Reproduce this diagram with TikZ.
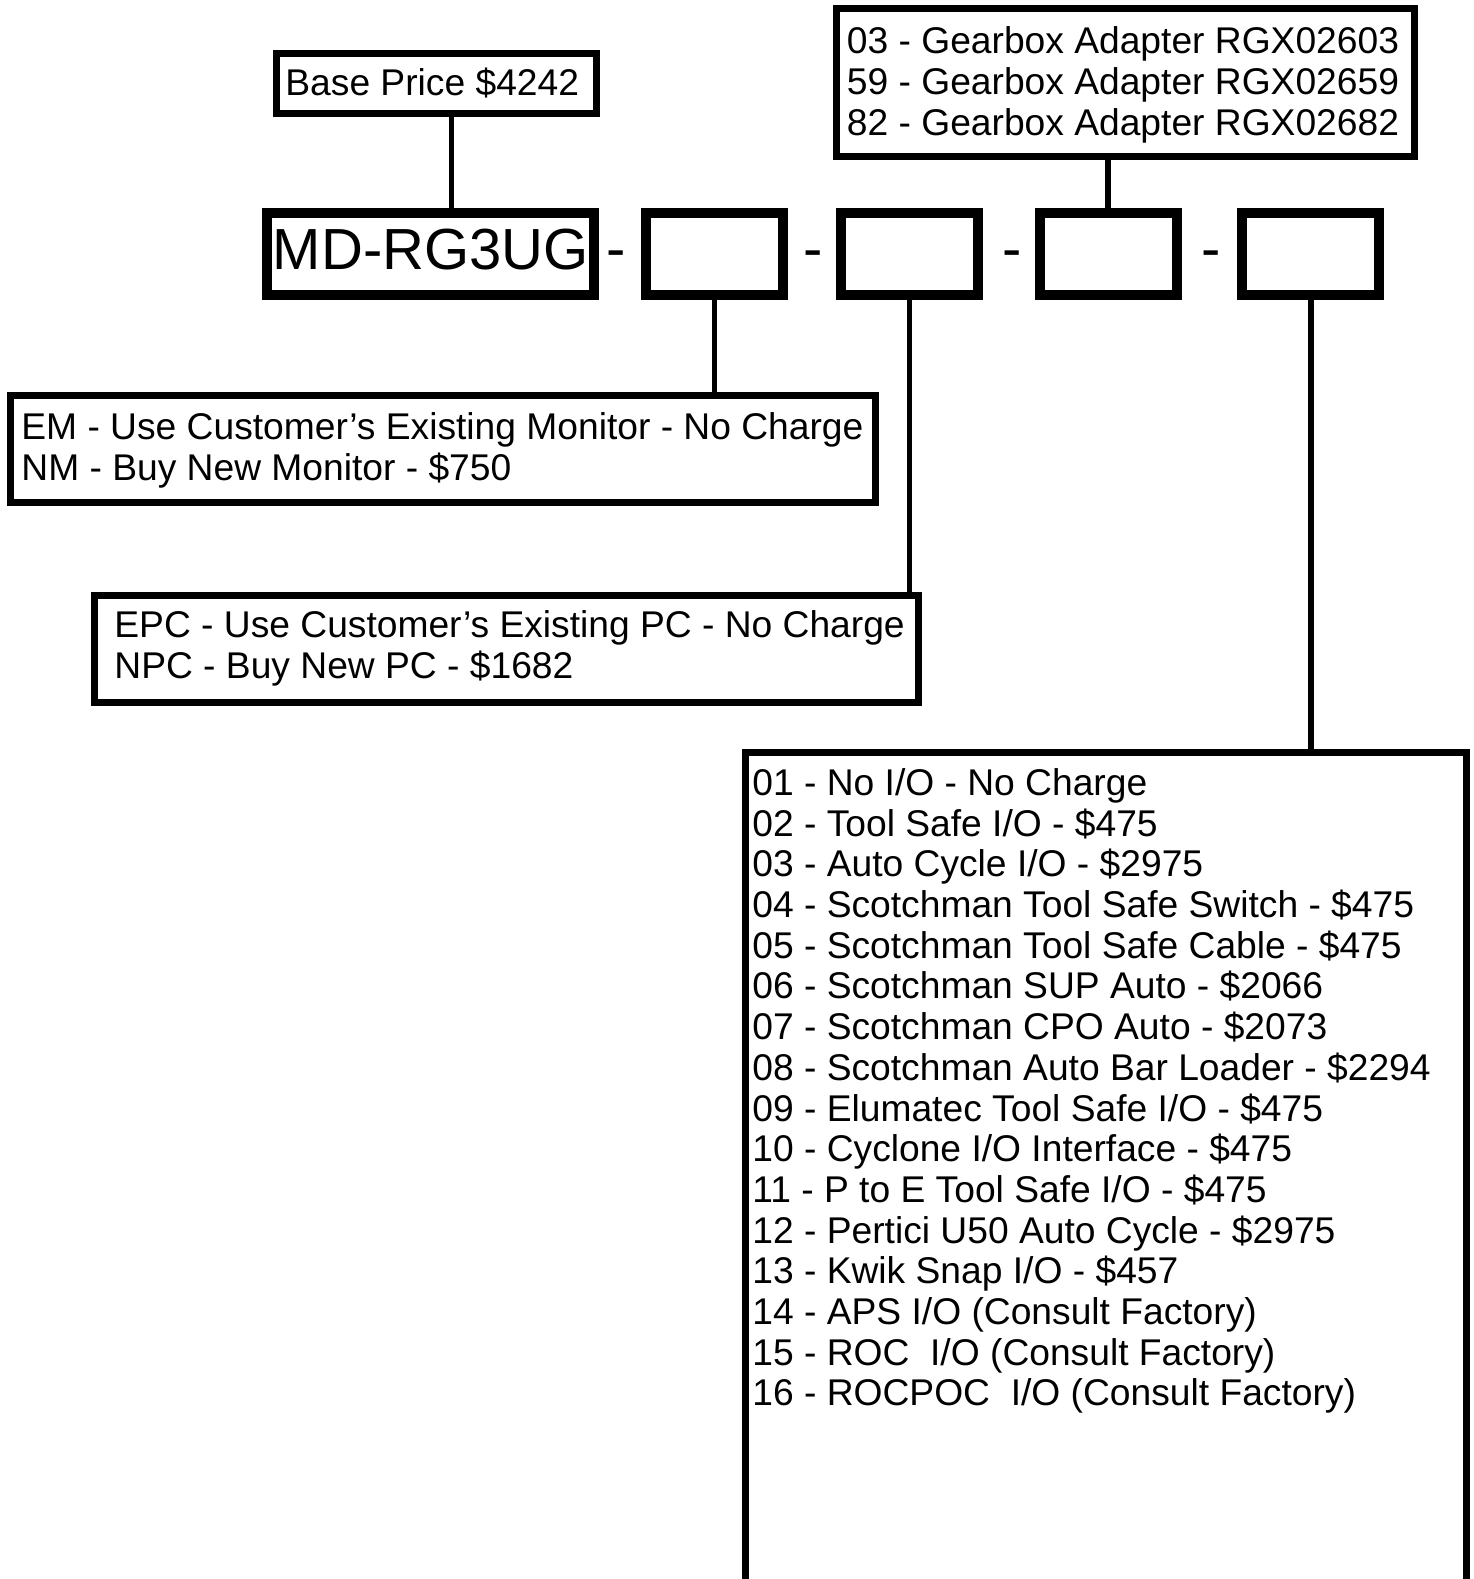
\documentclass[tikz,border=0pt]{standalone}
\usepackage{fontspec}
\setmainfont{Liberation Sans}
\tikzset{
  codebox/.style = {draw,line width=5pt,inner sep=0pt,minimum width=68.5pt,minimum height=40.85pt},
  optbox/.style  = {draw,line width=3.5pt,inner sep=0pt,anchor=north west},
  optlist/.style = {anchor=north west,inner sep=0pt,align=left,font=\fontsize{18.6}{20.35}\selectfont},
  joiner/.style  = {anchor=base,inner sep=0pt,font=\fontsize{29}{34}\selectfont},
  link/.style    = {line width=2.65pt}
}

\begin{document}
\begin{tikzpicture}[x=0.5pt,y=-0.5pt]
  \useasboundingbox (0,0) rectangle (1473,1579);
  \clip (0,0) rectangle (1473,1579);
  % part number boxes
  \node[codebox,minimum width=163.5pt,text height=14.8pt,text depth=0pt,
        font=\fontsize{29}{34}\selectfont] (md) at (430.8,254.2) {MD-RG3UG};
  \node[codebox] (b2) at (714.5,254.2) {};
  \node[codebox] (b3) at (909.2,254.2) {};
  \node[codebox] (b4) at (1108,254.2) {};
  \node[codebox] (b5) at (1310.9,254.2) {};
  \foreach \x [count=\i] in {616.5,813.5,1012,1211}
    \node[joiner] (j\i) at (\x,268.5) {-};
  % option boxes
  \node[optbox,minimum width=160pt,minimum height=30pt]        (base) at (272.5,49.5) {};
  \node[optbox,minimum width=288.85pt,minimum height=74pt]     (gear) at (833.3,5) {};
  \node[optbox,minimum width=432.35pt,minimum height=53.35pt]  (mon)  at (7.3,392.3) {};
  \node[optbox,minimum width=412.15pt,minimum height=53.25pt]  (pc)   at (91,592) {};
  \node[optbox,minimum width=360.5pt,minimum height=450pt]     (io)   at (742,749) {};
  % option texts
  \node[optlist] (basetxt) at (285,63) {\rule{0pt}{16pt}Base Price \$4242};
  \node[optlist] (geartxt) at (846.5,21.5) {\rule{0pt}{16pt}03 - Gearbox Adapter RGX02603\\
    59 - Gearbox Adapter RGX02659\\
    82 - Gearbox Adapter RGX02682};
  \node[optlist] (montxt) at (21,407.5) {\rule{0pt}{16pt}EM - Use Customer’s Existing Monitor - No Charge\\
    NM - Buy New Monitor - \$750};
  \node[optlist] (pctxt) at (114,605.5) {\rule{0pt}{16pt}EPC - Use Customer’s Existing PC - No Charge\\
    NPC - Buy New PC - \$1682};
  \node[optlist] (iotxt) at (752,763) {\rule{0pt}{16pt}01 - No I/O - No Charge\\
    02 - Tool Safe I/O - \$475\\
    03 - Auto Cycle I/O - \$2975\\
    04 - Scotchman Tool Safe Switch - \$475\\
    05 - Scotchman Tool Safe Cable - \$475\\
    06 - Scotchman SUP Auto - \$2066\\
    07 - Scotchman CPO Auto - \$2073\\
    08 - Scotchman Auto Bar Loader - \$2294\\
    09 - Elumatec Tool Safe I/O - \$475\\
    10 - Cyclone I/O Interface - \$475\\
    11 - P to E Tool Safe I/O - \$475\\
    12 - Pertici U50 Auto Cycle - \$2975\\
    13 - Kwik Snap I/O - \$457\\
    14 - APS I/O (Consult Factory)\\
    15 - ROC~ I/O (Consult Factory)\\
    16 - ROCPOC~ I/O (Consult Factory)};
  % connectors
  \coordinate (basefoot) at ([xshift=7.75pt]base.south);
  \draw[link] (basefoot) -- (basefoot |- md.north);
  \draw[link] (b4.north) -- (b4.north |- gear.south);
  \draw[link] (b2.south) -- (b2.south |- mon.north);
  \draw[link] (b3.south) -- (b3.south |- pc.north);
  \draw[link] (b5.south) -- (b5.south |- io.north);
\end{tikzpicture}
\end{document}
